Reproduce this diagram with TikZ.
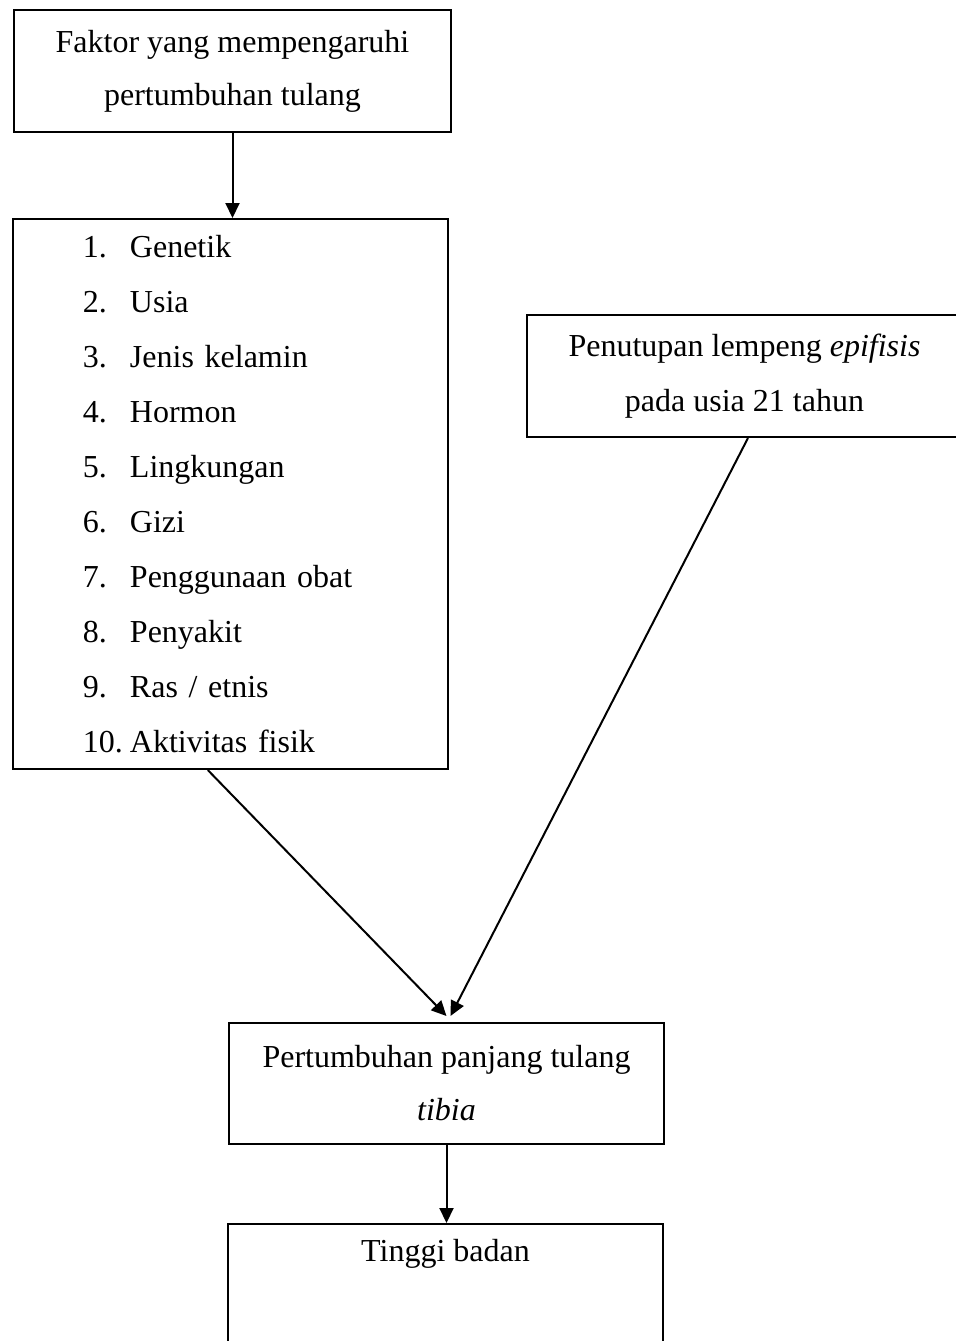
\documentclass[tikz,border=0pt]{standalone}
\usepackage{fontspec}
\setmainfont{Liberation Serif}
\usetikzlibrary{arrows.meta, calc}

\begin{document}
\begin{tikzpicture}[
    x=0.5pt, y=-0.5pt,
    >={Triangle[length=7.5pt, width=7pt]},
    box/.style={draw, line width=1pt, inner sep=0pt, minimum width=217.5pt,
      align=center, font=\fontsize{16}{26.5}\selectfont},
    flow/.style={->, line width=1pt},
  ]
  \useasboundingbox (0,0) rectangle (956,1341);

  % ===== Boxes =====
  \node[box, minimum width=218.5pt, minimum height=61pt] (factor) at (232.5,71)
    {Faktor yang mempengaruhi\\pertumbuhan tulang};

  \node[box, minimum height=275pt, align=left, text width=147.5pt,
    font=\fontsize{16}{27.5}\selectfont] (list) at (230.5,494)
    {\makebox[23.5pt][l]{1.}Genetik\\
     \makebox[23.5pt][l]{2.}Usia\\
     \makebox[23.5pt][l]{3.}Jenis kelamin\\
     \makebox[23.5pt][l]{4.}Hormon\\
     \makebox[23.5pt][l]{5.}Lingkungan\\
     \makebox[23.5pt][l]{6.}Gizi\\
     \makebox[23.5pt][l]{7.}Penggunaan obat\\
     \makebox[23.5pt][l]{8.}Penyakit\\
     \makebox[23.5pt][l]{9.}Ras / etnis\\
     \makebox[23.5pt][l]{10.}Aktivitas fisik};

  \node[box, minimum height=61pt, font=\fontsize{16}{27.5}\selectfont]
    (closure) at (744.5,376)
    {Penutupan lempeng \textit{epifisis}\\pada usia 21 tahun};

  \node[box, minimum height=60.5pt] (tibia) at (446.5,1083.5)
    {Pertumbuhan panjang tulang\\\textit{tibia}};

  \node[box, minimum height=61pt] (height) at (445.5,1285)
    {Tinggi badan\\\strut};

  % ===== Connectors =====
  \draw[flow] (factor.south) -- (factor.south |- list.north);
  \draw[flow] ($(list.south west)!0.448!(list.south east)$)
    -- ([yshift=3pt]tibia.north);
  \draw[flow] ($(closure.south west)!0.508!(closure.south east)$)
    -- ([xshift=2pt, yshift=3pt]tibia.north);
  \draw[flow] (tibia.south) -- (tibia.south |- height.north);

\end{tikzpicture}
\end{document}
